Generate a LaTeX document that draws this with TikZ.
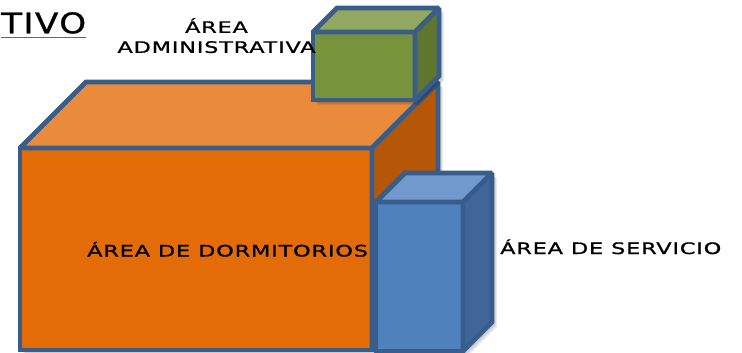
\documentclass[tikz,border=0pt]{standalone}
\usepackage{fontspec}
\newfontfamily\areafont{DejaVu Sans}[FakeStretch=1.42,LetterSpace=5,FakeBold=1]
\newfontfamily\titulofont{DejaVu Sans}[FakeStretch=1.2,LetterSpace=5,FakeBold=1]
\usetikzlibrary{positioning,calc}

\definecolor{borde}{HTML}{385D8A}
\definecolor{naranja}{HTML}{E36C09}
\definecolor{naranjatop}{HTML}{E98B3B}
\definecolor{naranjalado}{HTML}{B65708}
\definecolor{verde}{HTML}{77933C}
\definecolor{verdetop}{HTML}{92A860}
\definecolor{verdelado}{HTML}{607530}
\definecolor{azul}{HTML}{4F81BD}
\definecolor{azultop}{HTML}{7199CD}
\definecolor{azullado}{HTML}{3F6697}

\tikzset{cara/.style={draw=borde,line width=4.8pt,miter limit=2,fill=#1}}

% box: x, y (front top-left), width, height, depth, front, top, side
\newcommand{\caja}[8]{
    \foreach \s in {1,...,5}
        \fill[black,opacity=0.07] (#1+\s,#2+\s) -- (#1+#5+\s,#2-#5+\s) -- (#1+#3+#5+\s,#2-#5+\s)
            -- (#1+#3+#5+\s,#2+#4-#5+\s) -- (#1+#3+\s,#2+#4+\s) -- (#1+\s,#2+#4+\s) -- cycle;
    \path[cara=#6] (#1,#2) rectangle (#1+#3,#2+#4);
    \path[cara=#7] (#1,#2) -- (#1+#5,#2-#5) -- (#1+#3+#5,#2-#5) -- (#1+#3,#2) -- cycle;
    \path[cara=#8] (#1+#3,#2) -- (#1+#3+#5,#2-#5) -- (#1+#3+#5,#2+#4-#5) -- (#1+#3,#2+#4) -- cycle;
}

\begin{document}
\begin{tikzpicture}[x=1pt,y=-1pt]
        \tikzstyle{etiqueta}=[font=\areafont\fontsize{15.8}{20}\selectfont,inner sep=0pt,text=black]
        \useasboundingbox (0,0) rectangle (742,353);

        %%% Boxes
        \caja{20}{148}{352}{202}{66}{naranja}{naranjatop}{naranjalado}
        \caja{313}{32}{102}{68}{24}{verde}{verdetop}{verdelado}
        \caja{376}{202}{87}{149}{29}{azul}{azultop}{azullado}

        %%% Labels
        \node[etiqueta,font=\titulofont\fontsize{28.5}{30}\selectfont,anchor=base west] (tivo) at (1,33.3) {TIVO};
        \draw[black!60,line width=1.5pt] ([yshift=-4pt]tivo.base west) -- ([yshift=-4pt]tivo.base east);
        \node[etiqueta,align=center,anchor=south] (admin) at (216.5,53.3) {ÁREA\\ADMINISTRATIVA};
        \node[etiqueta,anchor=base west] (dormitorios) at (87,256.5) {ÁREA DE DORMITORIOS};
        \node[etiqueta,anchor=base west] (servicio) at (500,254) {ÁREA DE SERVICIO};
\end{tikzpicture}
\end{document}
